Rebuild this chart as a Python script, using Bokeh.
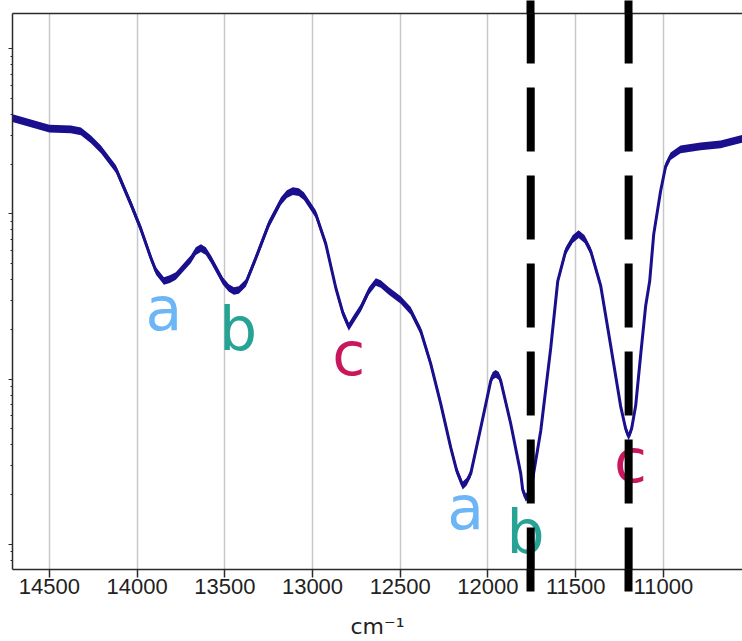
from bokeh.plotting import figure
from bokeh.models import FixedTicker, LinearAxis, Range1d, Whisker, ColumnDataSource
from bokeh.core.properties import value
from bokeh.embed import file_html
from bokeh.resources import INLINE

# ---- data ----
wavenumber = [14710, 14500, 14377, 14320, 14263, 14206, 14120, 14035, 13978, 13921,
              13892, 13847, 13813, 13779, 13693, 13665, 13636, 13608, 13579, 13511,
              13477, 13448, 13420, 13380, 13323, 13249, 13180, 13146, 13112, 13078,
              13049, 12981, 12924, 12867, 12827, 12793, 12765, 12725, 12679, 12639,
              12611, 12565, 12497, 12440, 12383, 12326, 12269, 12212, 12178, 12144,
              12121, 12098, 12041, 11984, 11973, 11956, 11938, 11927, 11870, 11813,
              11802, 11785, 11773, 11756, 11699, 11642, 11602, 11557, 11517, 11483,
              11449, 11414, 11357, 11300, 11244, 11215, 11198, 11181, 11158, 11130,
              11101, 11078, 11055, 11016, 10987, 10959, 10902, 10788, 10674, 10540]
signal = [0.3807, 0.3286, 0.3254, 0.3165, 0.2831, 0.2463, 0.1866, 0.1146, 0.0809, 0.0541,
          0.04513, 0.03926, 0.04036, 0.04209, 0.05333, 0.0596, 0.06214, 0.0596, 0.05333, 0.03926,
          0.03561, 0.03416, 0.03464, 0.03818, 0.0541, 0.08678, 0.1195, 0.1317, 0.1373, 0.1354,
          0.1281, 0.09972, 0.0657, 0.03561, 0.02516, 0.0207, 0.02314, 0.02696, 0.03416, 0.03872,
          0.03765, 0.03416, 0.03014, 0.02587, 0.01957, 0.01237, 0.007089, 0.003845, 0.002792, 0.002266,
          0.002396, 0.002678, 0.005077, 0.009766, 0.01047, 0.01076, 0.01047, 0.009766, 0.005368, 0.002678,
          0.002143, 0.001918, 0.001972, 0.002114, 0.004871, 0.01546, 0.03926, 0.0596, 0.07041, 0.07549,
          0.07041, 0.0596, 0.03662, 0.01589, 0.006894, 0.005008, 0.004481, 0.005008, 0.006894, 0.01382,
          0.02773, 0.03926, 0.07549, 0.1373, 0.1944, 0.2235, 0.2463, 0.2568, 0.264, 0.2871]

peak_labels = ["a", "b", "c", "a", "b", "c"]
peak_label_x = [13847, 13425, 12793, 12127, 11785, 11187]
peak_label_y = [0.01905, 0.01442, 0.01018, 0.001195, 0.000844, 0.002298]
peak_label_colors = ["#6cb6f7", "#27a396", "#c8175d", "#6cb6f7", "#27a396", "#c8175d"]

marker_lines = [11756, 11198]

x_ticks = [14500, 14000, 13500, 13000, 12500, 12000, 11500, 11000]
y_major = [1e-3, 1e-2, 1e-1, 1.0]

# ---- styling constants ----
X_START, X_END = 14710, 10549
Y_START, Y_END = 7.04e-4, 1.635
DASH_BOTTOM, DASH_TOP = 5.186e-4, 1.986
LINE_COLOR = "#1a0f8c"
AXIS_COLOR = "#2b2b2b"
BAND = 1.055

y_minor = [m * d for d in [1e-4, 1e-3, 1e-2, 1e-1] for m in range(2, 10)]

p = figure(width=742, height=641, x_range=Range1d(X_START, X_END),
           y_range=Range1d(Y_START, Y_END), y_axis_type="log",
           output_backend="svg", toolbar_location=None,
           min_border_left=12, min_border_right=0, min_border_top=12, min_border_bottom=0)
p.outline_line_color = None
p.background_fill_color = "white"
p.border_fill_color = "white"

# bottom axis; its minor ticks carry the dashed lines below the frame
xa = p.below[0]
xa.ticker = FixedTicker(ticks=x_ticks, minor_ticks=marker_lines)
xa.axis_label = "cm\u207b\u00b9"
xa.axis_label_text_font = "DejaVu Sans"
xa.axis_label_text_font_style = "normal"
xa.axis_label_text_font_size = "22px"
xa.axis_label_text_color = "#222222"
xa.axis_label_standoff = 17
xa.major_label_text_font = "Liberation Sans"
xa.major_label_text_font_size = "22px"
xa.major_label_text_color = "#222222"
xa.major_label_standoff = -13
xa.major_tick_out = 8
xa.major_tick_in = 0
xa.minor_tick_out = 22
xa.minor_tick_in = 0
xa.minor_tick_line_color = "black"
xa.minor_tick_line_width = 8
xa.axis_line_color = AXIS_COLOR
xa.axis_line_width = 1.5
xa.major_tick_line_color = AXIS_COLOR
xa.major_tick_line_width = 1.5

# left axis (labels cut off in the reference)
ya = p.left[0]
ya.ticker = FixedTicker(ticks=y_major, minor_ticks=y_minor)
ya.major_label_text_font_size = "1px"
ya.major_label_text_alpha = 0
ya.major_label_standoff = 0
ya.major_tick_out = 4
ya.major_tick_in = 0
ya.minor_tick_out = 2
ya.minor_tick_in = 0
ya.axis_line_color = AXIS_COLOR
ya.axis_line_width = 1.5
ya.major_tick_line_color = AXIS_COLOR
ya.minor_tick_line_color = AXIS_COLOR

# top spine; its minor ticks carry the dashed lines above the frame
top = LinearAxis(ticker=FixedTicker(ticks=[], minor_ticks=marker_lines),
                 major_label_text_font_size="1px", major_label_text_alpha=0,
                 major_label_standoff=0, major_tick_out=0, major_tick_in=0,
                 major_tick_line_color=None,
                 minor_tick_out=13, minor_tick_in=0, minor_tick_line_color="black",
                 minor_tick_line_width=8,
                 axis_line_color=AXIS_COLOR, axis_line_width=1.5)
p.add_layout(top, "above")

p.xgrid.ticker = FixedTicker(ticks=x_ticks)
p.xgrid.grid_line_color = "#c8c8c8"
p.xgrid.grid_line_width = 1.5
p.ygrid.visible = False

# curve (thick, slightly noisy trace)
p.varea(x=wavenumber, y1=[v / BAND for v in signal], y2=[v * BAND for v in signal],
        fill_color=LINE_COLOR)
p.line(wavenumber, signal, line_width=3, line_color=LINE_COLOR)

# peak letters
lab_src = ColumnDataSource(dict(x=peak_label_x, y=peak_label_y, t=peak_labels, c=peak_label_colors))
p.text(x="x", y="y", text="t", text_color="c", source=lab_src,
       text_font=value("DejaVu Sans"), text_font_size=value("60px"),
       text_align="center", text_baseline="alphabetic", y_offset=-24)

# dashed marker lines
dsrc = ColumnDataSource(dict(base=marker_lines, lower=[DASH_BOTTOM] * len(marker_lines),
                             upper=[DASH_TOP] * len(marker_lines)))
wh = Whisker(source=dsrc, base="base", lower="lower", upper="upper", dimension="height",
             line_color="black", line_width=8, line_dash="64 24",
             lower_head=None, upper_head=None, level="overlay")
p.add_layout(wh)

open("out.html", "w").write(file_html(p, INLINE))
